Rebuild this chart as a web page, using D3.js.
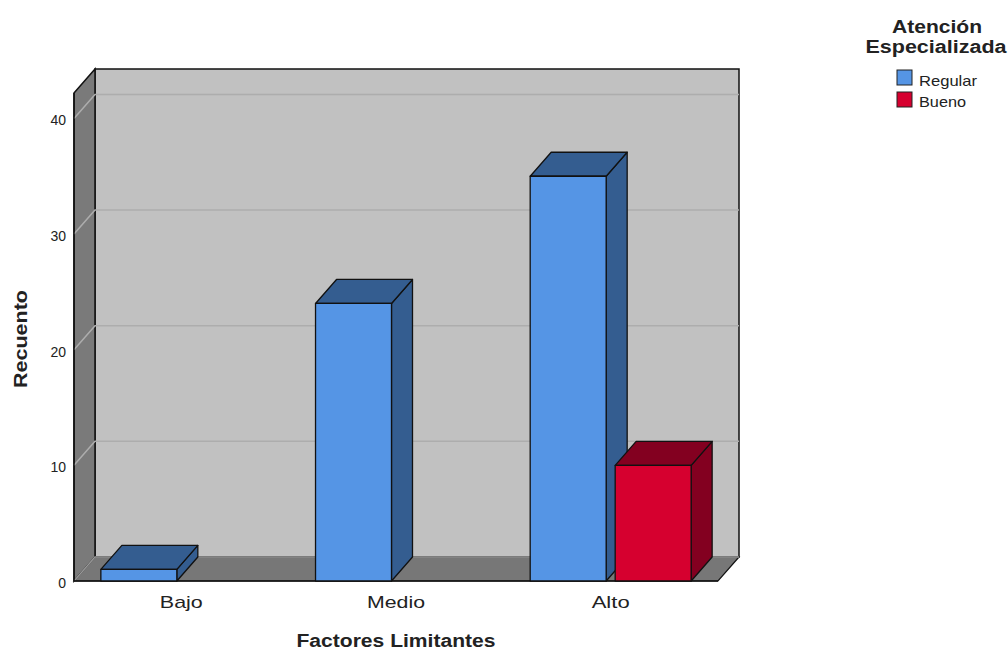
<!DOCTYPE html>
<html>
<head>
<meta charset="utf-8">
<script src="https://cdn.jsdelivr.net/npm/d3@7"></script>
<style>
  body { margin: 0; background: #fff; }
  svg { font-family: "Liberation Sans", Arial, sans-serif; }
</style>
</head>
<body>
<div id="chart"></div>
<script>
// data
var categories = ['Bajo', 'Medio', 'Alto'];
var seriesNames = ['Regular', 'Bueno'];
var regularValues = [1, 24, 35];
var buenoValues = [0, 0, 10];
var yTicks = [0, 10, 20, 30, 40];

var svgWidth = 1008;
var svgHeight = 652;

var svg = d3.select('#chart')
            .append('svg')
            .attr('width', svgWidth)
            .attr('height', svgHeight);

// depth offset of the 3D box
var dx = 21, dy = -24;
var left = 74, right = 718, bottom = 581;

var xScale = d3.scaleBand()
    .domain(categories)
    .range([left, right]);

var innerScale = d3.scaleBand()
    .domain(seriesNames)
    .range([0, xScale.bandwidth()])
    .paddingInner(0.106)
    .paddingOuter(0.316);

var yScale = d3.scaleLinear()
    .domain([0, 42.2])
    .range([bottom, 93]);

var yTop = yScale(42.2);

var colors = {
    Regular: { front: '#5595e5', dark: '#345d90' },
    Bueno: { front: '#d6002f', dark: '#830020' }
};

// back wall
svg.append('rect')
    .attr('x', left + dx).attr('y', yTop + dy)
    .attr('width', right - left).attr('height', bottom - yTop)
    .attr('fill', '#c1c1c1')
    .attr('stroke', '#111').attr('stroke-width', 1.5);

// left wall
svg.append('polygon')
    .attr('points', [[left, yTop], [left + dx, yTop + dy], [left + dx, bottom + dy], [left, bottom]].join(' '))
    .attr('fill', '#7a7a7a')
    .attr('stroke', '#111').attr('stroke-width', 1.5);

// floor
svg.append('polygon')
    .attr('points', [[left, bottom], [left + dx, bottom + dy], [right + dx, bottom + dy], [right, bottom]].join(' '))
    .attr('fill', '#777777')
    .attr('stroke', '#111').attr('stroke-width', 1.2);

// gridlines
yTicks.forEach(function (t) {
    var y = yScale(t);
    svg.append('polyline')
        .attr('points', [[left, y], [left + dx, y + dy], [right + dx, y + dy]].join(' '))
        .attr('fill', 'none')
        .attr('stroke', t === 0 ? '#999' : '#adadad')
        .attr('stroke-width', 1.5);
});

// front edges of left wall and floor
svg.append('line')
    .attr('x1', left).attr('y1', yTop).attr('x2', left).attr('y2', bottom)
    .attr('stroke', '#111').attr('stroke-width', 1.5);
svg.append('line')
    .attr('x1', left).attr('y1', bottom).attr('x2', right).attr('y2', bottom)
    .attr('stroke', '#111').attr('stroke-width', 1.5);

// y tick labels
svg.append('g')
    .selectAll('text')
    .data(yTicks)
    .join('text')
    .attr('x', 66)
    .attr('y', d => yScale(d) + 7)
    .attr('text-anchor', 'end')
    .attr('font-size', 14)
    .attr('fill', '#222')
    .text(d => d);

// bars
var bars = [];
categories.forEach(function (c, i) {
    bars.push({ cat: c, s: 'Regular', v: regularValues[i] });
    bars.push({ cat: c, s: 'Bueno', v: buenoValues[i] });
});

bars.filter(d => d.v > 0).forEach(function (d) {
    var x0 = xScale(d.cat) + innerScale(d.s);
    var x1 = x0 + innerScale.bandwidth();
    var y0 = yScale(d.v);
    var g = svg.append('g')
        .attr('stroke', '#111')
        .attr('stroke-width', 1.3)
        .attr('stroke-linejoin', 'round');
    // side
    g.append('polygon')
        .attr('points', [[x1, y0], [x1 + dx, y0 + dy], [x1 + dx, bottom + dy], [x1, bottom]].join(' '))
        .attr('fill', colors[d.s].dark);
    // top
    g.append('polygon')
        .attr('points', [[x0, y0], [x0 + dx, y0 + dy], [x1 + dx, y0 + dy], [x1, y0]].join(' '))
        .attr('fill', colors[d.s].dark);
    // front
    g.append('rect')
        .attr('x', x0).attr('y', y0)
        .attr('width', x1 - x0).attr('height', bottom - y0)
        .attr('fill', colors[d.s].front);
});

// x labels (widths)
var labelWidths = { Bajo: 43, Medio: 58, Alto: 38 };
svg.append('g')
    .selectAll('text')
    .data(categories)
    .join('text')
    .attr('x', d => xScale(d) + xScale.bandwidth() / 2)
    .attr('y', 608)
    .attr('text-anchor', 'middle')
    .attr('font-size', 17)
    .attr('fill', '#222')
    .attr('textLength', d => labelWidths[d])
    .attr('lengthAdjust', 'spacingAndGlyphs')
    .text(d => d);

// axis titles
svg.append('text')
    .attr('x', 396)
    .attr('y', 647)
    .attr('text-anchor', 'middle')
    .attr('font-size', 18)
    .attr('font-weight', 'bold')
    .attr('fill', '#222')
    .attr('textLength', 199)
    .attr('lengthAdjust', 'spacingAndGlyphs')
    .text('Factores Limitantes');

svg.append('text')
    .attr('transform', 'rotate(-90)')
    .attr('x', -339)
    .attr('y', 27)
    .attr('text-anchor', 'middle')
    .attr('font-size', 18)
    .attr('font-weight', 'bold')
    .attr('fill', '#222')
    .attr('textLength', 98)
    .attr('lengthAdjust', 'spacingAndGlyphs')
    .text('Recuento');

// legend
var legend = svg.append('g');
legend.append('text')
    .attr('x', 937).attr('y', 33)
    .attr('text-anchor', 'middle')
    .attr('font-size', 18).attr('font-weight', 'bold').attr('fill', '#222')
    .attr('textLength', 90).attr('lengthAdjust', 'spacingAndGlyphs')
    .text('Atención');
legend.append('text')
    .attr('x', 936).attr('y', 53)
    .attr('text-anchor', 'middle')
    .attr('font-size', 18).attr('font-weight', 'bold').attr('fill', '#222')
    .attr('textLength', 141).attr('lengthAdjust', 'spacingAndGlyphs')
    .text('Especializada');

var legendWidths = { Regular: 58, Bueno: 47 };
seriesNames.forEach(function (s, i) {
    legend.append('rect')
        .attr('x', 897).attr('y', 70 + i * 22)
        .attr('width', 15).attr('height', 15)
        .attr('fill', colors[s].front)
        .attr('stroke', '#222').attr('stroke-width', 1);
    legend.append('text')
        .attr('x', 919).attr('y', 86 + i * 21)
        .attr('font-size', 15).attr('fill', '#222')
        .attr('textLength', legendWidths[s]).attr('lengthAdjust', 'spacingAndGlyphs')
        .text(s);
});
</script>
</body>
</html>
